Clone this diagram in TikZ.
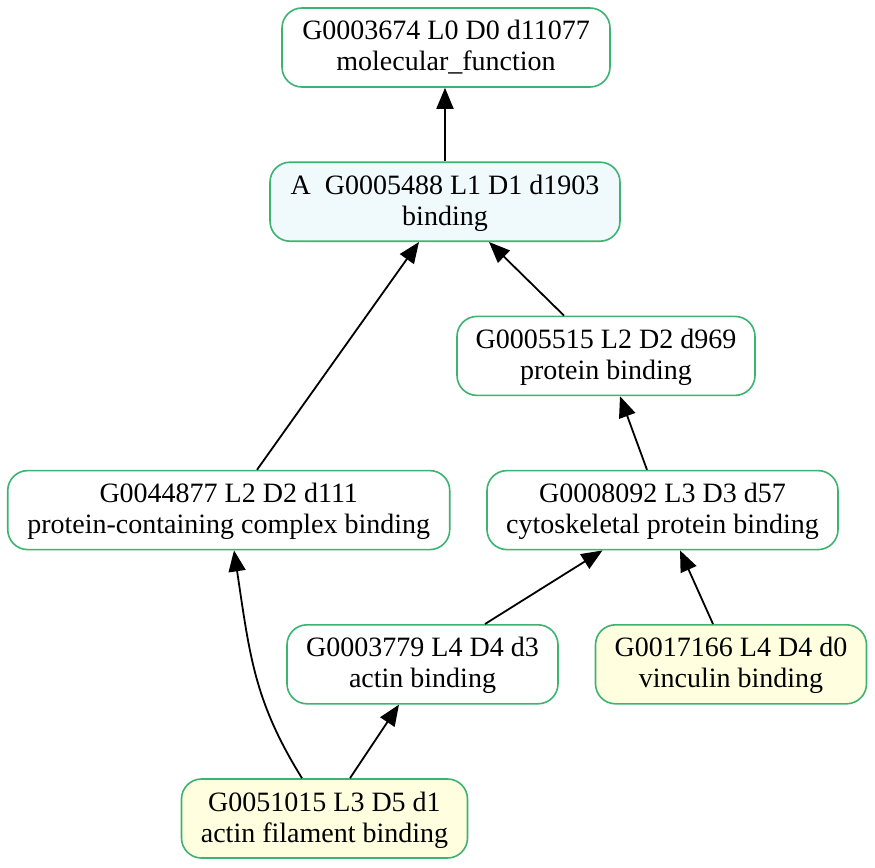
\documentclass[tikz,border=0pt]{standalone}
\usepackage{fontspec}
\setmainfont{Liberation Serif}
\usetikzlibrary{arrows.meta}
\definecolor{bordergreen}{HTML}{3CB371}
\definecolor{bindfill}{HTML}{F0F9FC}
\definecolor{leaffill}{HTML}{FFFFE0}
\newcommand{\gotext}[2]{\begin{tabular}{@{}c@{}}\rule{0pt}{25.3pt}#1\\#2\end{tabular}}
\begin{document}
\begin{tikzpicture}[x=1pt,y=-1pt,
  goterm/.style={draw=bordergreen, line width=1.6pt, rounded corners=20pt,
    minimum height=79pt, inner sep=0pt, fill=white,
    font=\fontsize{28}{31}\selectfont},
  bindterm/.style={goterm, fill=bindfill},
  leafterm/.style={goterm, fill=leaffill},
  isa/.style={line width=1.8pt, -{Triangle[length=21pt,width=17pt]}}]
\fill[white] (0,0) rectangle (875,867);
\useasboundingbox (0,0) rectangle (875,867);
\node[goterm, minimum width=328pt] (n1) at (446,47.5) {\gotext{G0003674 L0 D0 d11077}{molecular\_function}};
\node[bindterm, minimum width=350pt] (n2) at (445,201.7) {\gotext{A\ \ G0005488 L1 D1 d1903}{binding}};
\node[goterm, minimum width=298pt] (n3) at (606,355.9) {\gotext{G0005515 L2 D2 d969}{protein binding}};
\node[goterm, minimum width=442pt] (n4) at (228.75,510.1) {\gotext{G0044877 L2 D2 d111}{protein-containing complex binding}};
\node[goterm, minimum width=351pt] (n5) at (662.5,510.1) {\gotext{G0008092 L3 D3 d57}{cytoskeletal protein binding}};
\node[goterm, minimum width=271pt] (n6) at (422.5,664.3) {\gotext{G0003779 L4 D4 d3}{actin binding}};
\node[leafterm, minimum width=271pt] (n7) at (731,664.3) {\gotext{G0017166 L4 D4 d0}{vinculin binding}};
\node[leafterm, minimum width=286pt] (n8) at (324.5,818.5) {\gotext{G0051015 L3 D5 d1}{actin filament binding}};
\coordinate (c1) at (254.2,701.2);
\coordinate (c2) at (249.8,655.9);
\draw[isa] (n2.north) -- (n2.north |- n1.south);
\draw[isa] ([xshift=28.25pt]n4.north) -- ([xshift=-26pt]n2.south);
\draw[isa] ([xshift=-42pt]n3.north) -- ([xshift=44pt]n2.south);
\draw[isa] ([xshift=-15.5pt]n5.north) -- ([xshift=14pt]n3.south);
\draw[isa] ([xshift=62.5pt]n6.north) -- ([xshift=-60pt]n5.south);
\draw[isa] ([xshift=-18pt]n7.north) -- ([xshift=17.5pt]n5.south);
\draw[isa] ([xshift=25.5pt]n8.north) -- ([xshift=-23.5pt]n6.south);
\draw[isa] ([xshift=-22.5pt]n8.north) .. controls (c1) and (c2) .. ([xshift=5.25pt]n4.south);
\end{tikzpicture}
\end{document}
